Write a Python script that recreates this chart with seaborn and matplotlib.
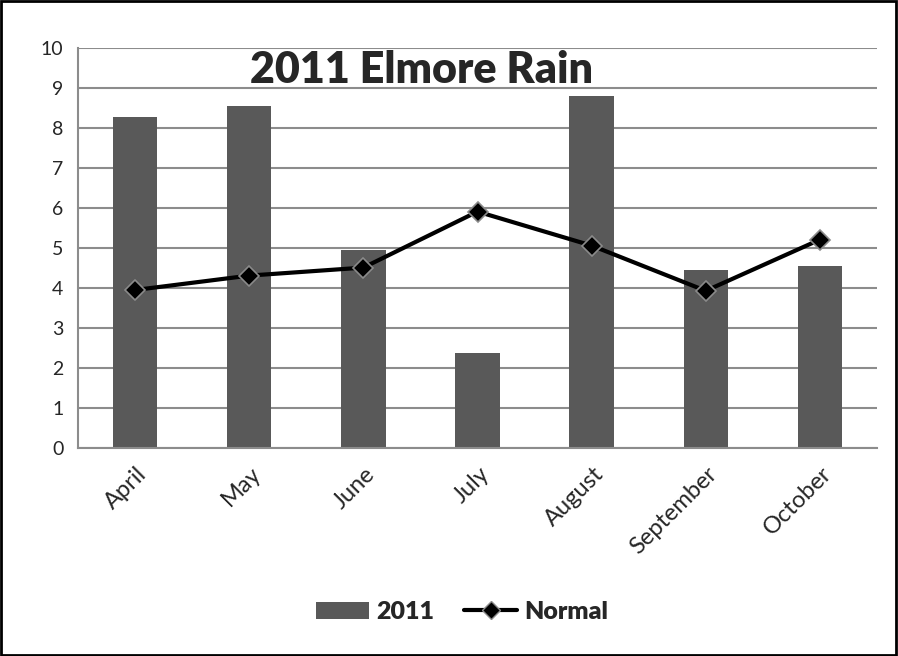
import pandas as pd
import seaborn as sns
import matplotlib.pyplot as plt
import matplotlib.transforms as mtransforms
from matplotlib.lines import Line2D
from matplotlib.patches import Patch

# Data
months = ['April', 'May', 'June', 'July', 'August', 'September', 'October']
rain_2011 = [8.28, 8.56, 4.94, 2.38, 8.79, 4.45, 4.55]
rain_normal = [3.95, 4.31, 4.51, 5.91, 5.06, 3.93, 5.21]

df = pd.DataFrame({'month': months, '2011': rain_2011, 'Normal': rain_normal})

sns.set_style("white")
plt.rcParams['font.family'] = ['Lato', 'DejaVu Sans']

fig = plt.figure(figsize=(8.98, 6.56), dpi=100)
ax = fig.add_axes([78 / 898, 1 - 448 / 656, (877 - 78) / 898, (448 - 48) / 656])

sns.barplot(data=df, x='month', y='2011', color='#595959', width=0.39,
            saturation=1, ax=ax, zorder=2, edgecolor='none')
sns.pointplot(data=df, x='month', y='Normal', color='black', markers='D',
              linewidth=3, markersize=10, markeredgecolor='#8a8a8a',
              markeredgewidth=1.2, ax=ax)
for coll in ax.lines:
    coll.set_zorder(4)

ax.set_ylim(0, 10)
ax.set_xlim(-0.5, len(months) - 0.5)
ax.set_yticks(range(0, 11))
ax.yaxis.grid(True, color='#8c8c8c', linewidth=1.5)
ax.set_axisbelow(True)
ax.set_xlabel('')
ax.set_ylabel('')

for side in ['top', 'right']:
    ax.spines[side].set_visible(False)
for side in ['left', 'bottom']:
    ax.spines[side].set_color('#8c8c8c')
    ax.spines[side].set_linewidth(1.5)

# category boundary tick marks, labels at centers
ax.set_xticks([i - 0.5 for i in range(len(months) + 1)], minor=True)
ax.tick_params(axis='x', which='minor', length=7, width=1.5, color='#8c8c8c', direction='out')
ax.tick_params(axis='x', which='major', length=0, pad=11)
ax.tick_params(axis='y', length=7, width=1.5, color='#8c8c8c', direction='out', labelsize=14)
ax.set_xticks(range(len(months)))
ax.set_xticklabels(months, rotation=45, ha='right', rotation_mode='anchor', fontsize=17)
offset = mtransforms.ScaledTranslation(0.01, 0, fig.dpi_scale_trans)
for lbl in ax.get_xticklabels():
    lbl.set_transform(lbl.get_transform() + offset)

ax.text(0.43, 0.945, '2011 Elmore Rain', transform=ax.transAxes, ha='center',
        va='center', fontsize=31, fontweight='heavy')

handles = [Patch(facecolor='#595959', edgecolor='none'),
           Line2D([0], [0], color='black', linewidth=3, marker='D', markersize=9,
                  markeredgecolor='#8a8a8a')]
fig.legend(handles, ['2011', 'Normal'], loc='center', bbox_to_anchor=(0.515, 1 - 612 / 656),
           ncol=2, frameon=False, prop={'weight': 'heavy', 'size': 18},
           handlelength=2.1, handleheight=0.7, columnspacing=1.2, handletextpad=0.3)

# outer border
fig.patches.append(plt.Rectangle((0.001, 0.001), 0.997, 0.997, transform=fig.transFigure,
                                 fill=False, edgecolor='black', linewidth=2))

plt.savefig('out.png', dpi=100)
